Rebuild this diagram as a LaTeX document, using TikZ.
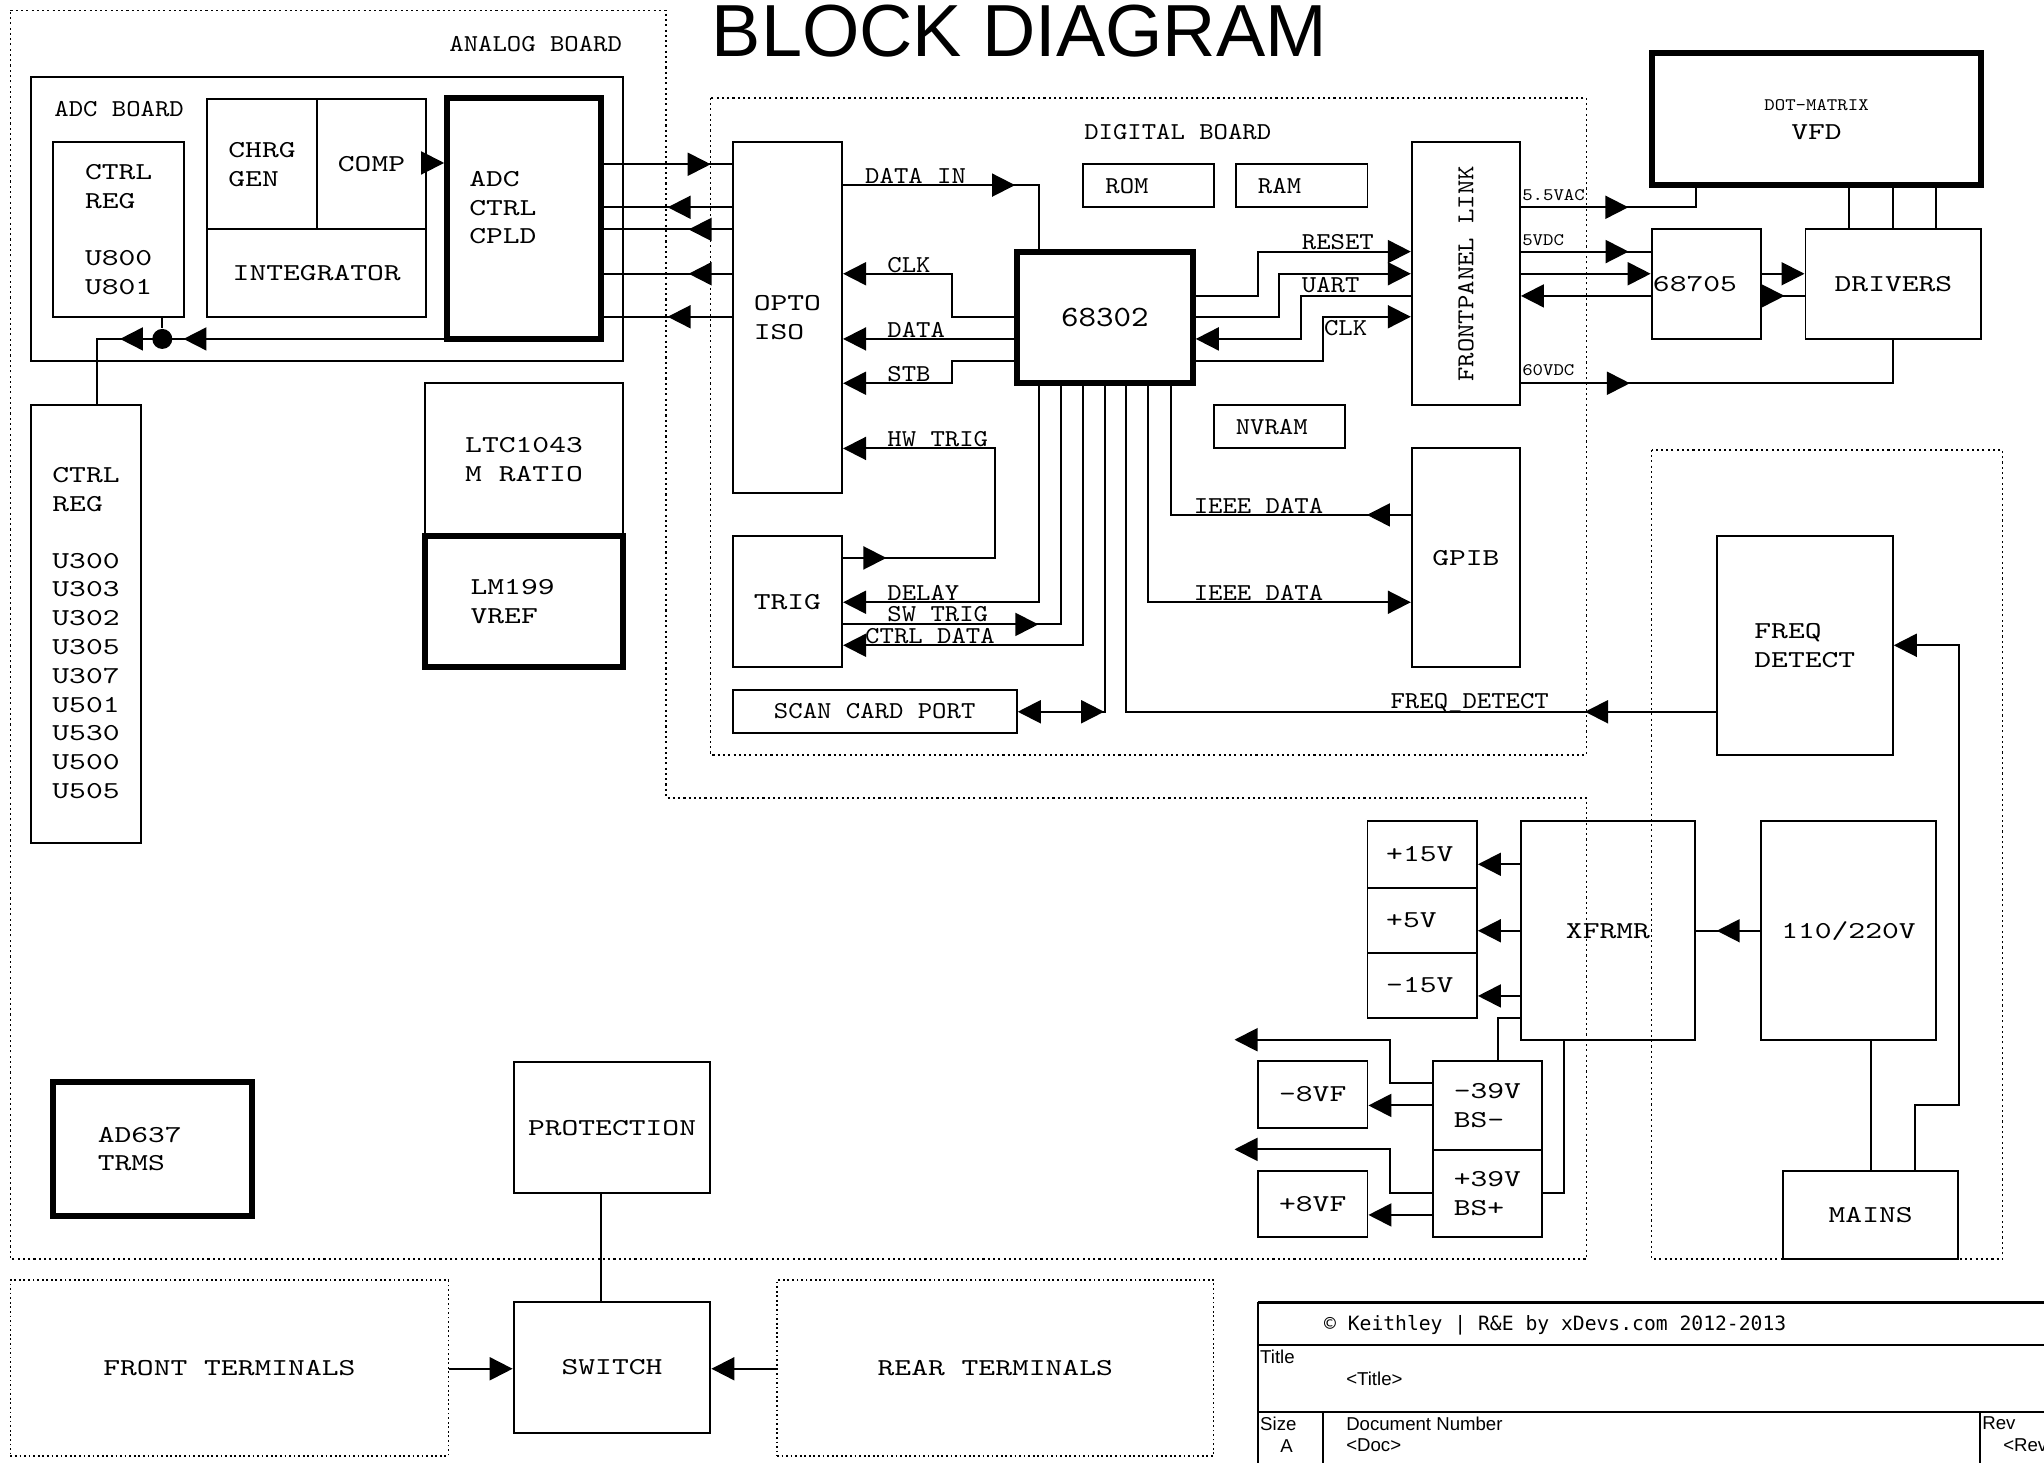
\documentclass[tikz,border=0pt]{standalone}
\usepackage{fontspec}
\usetikzlibrary{arrows.meta,decorations.markings}
\newfontfamily\blkfont[FakeStretch=1.32]{lmmono10-regular.otf}
\newfontfamily\sigfont[FakeStretch=1.13]{lmmono10-regular.otf}
\newfontfamily\hdfont{Liberation Sans}
\newfontfamily\cpyfont{DejaVu Sans Mono}
\newcommand{\px}{0.13036mm}
\newcommand{\blktxt}{\blkfont\fontsize{6.9}{8.2}\selectfont}
\newcommand{\sigtxt}{\sigfont\fontsize{6.9}{8.2}\selectfont}
\newcommand{\tagtxt}{\sigfont\fontsize{5}{6}\selectfont}
\newcommand{\mputxt}{\sigfont\fontsize{8.4}{10}\selectfont}
\newcommand{\tbtxt}{\hdfont\fontsize{5.3}{6.5}\selectfont}

\begin{document}
\begin{tikzpicture}[
            x=\px, y=-\px,
            line width=0.55pt,
            >={Triangle[length=2.3mm,width=2.3mm]},
            every node/.style={inner sep=0pt},
            box/.style={draw, font=\blktxt},
            heavy/.style={box, line width=1.7pt},
            term/.style={draw, line width=0.4pt, dash pattern=on 0.5pt off 0.8pt, font=\blktxt},
            board/.style={line width=0.45pt, dash pattern=on 0.6pt off 0.9pt},
            sig/.style={font=\sigtxt, anchor=west},
            tag/.style={font=\tagtxt, anchor=west},
            tb/.style={font=\tbtxt, anchor=west},
            wh/.style 2 args={minimum width=#1*\px, minimum height=#2*\px},
            dot/.style={circle, fill, minimum size=2mm},
            mid fwd/.style={postaction={decorate, decoration={markings, mark=at position #1 with {\arrow{>}}}}},
            mid bwd/.style={postaction={decorate, decoration={markings, mark=at position #1 with {\arrowreversed{>}}}}},
        ]
            \useasboundingbox (0,0) rectangle (1568,1122);

            \node[font=\hdfont\fontsize{21}{25}\selectfont] (title) at (782,24) {BLOCK DIAGRAM};

            % boards
            \draw[board] (8,8) -- (511,8) -- (511,612) -- (1217,612) -- (1217,966) -- (8,966) -- cycle;
            \draw[board] (545,75) rectangle (1217,579);
            \draw[board] (1267,345) rectangle (1536,966);
            \node[sig] (anlbl) at (344,34) {ANALOG BOARD};
            \node[sig] (diglbl) at (831,101) {DIGITAL BOARD};

            % analog board
            \node[box, wh={454}{218}] (adcbrd) at (251,168) {};
            \node[sig] (adclbl) at (41,84) {ADC BOARD};
            \node[box, wh={100}{134}, align=left] (u800) at (91,176) {CTRL\\REG\\[8.2pt]U800\\U801};
            \node[box, wh={84}{100}, align=left] (chrg) at (201,126) {CHRG\\GEN};
            \node[box, wh={84}{100}] (comp) at (285,126) {COMP};
            \node[box, wh={168}{67}] (integ) at (243,209.5) {INTEGRATOR};
            \node[heavy, wh={118}{185}, text width=10.95mm, align=left] (cpld) at (402,167.5) {ADC\\CTRL\\CPLD\\[-2pt]\mbox{}};
            \node[box, wh={84}{336}, align=left] (ctrlreg) at (66,479) {\mbox{}\\[1pt]CTRL\\REG\\[8pt]U300\\U303\\U302\\U305\\U307\\U501\\U530\\U500\\U505};
            \node[box, wh={152}{117}, align=left] (ltc) at (402,352.5) {LTC1043\\M RATIO};
            \node[heavy, wh={152}{101}, text width=10.69mm, align=left] (lm199) at (402,461.5) {LM199\\VREF};
            \node[heavy, wh={152}{103}, text width=10.95mm, align=left] (ad637) at (117,881.5) {AD637\\TRMS};
            \node[box, wh={151}{100}] (prot) at (469.5,865) {PROTECTION};
            \node[box, wh={151}{100}] (switch) at (469.5,1049) {SWITCH};
            \node[term, wh={336}{135}] (front) at (176,1049.5) {FRONT TERMINALS};
            \node[term, wh={335}{135}] (rear) at (763.5,1049.5) {REAR TERMINALS};
            \node[dot] (jn) at (124.5,260) {};

            % digital board
            \node[box, wh={84}{269}, align=left] (opto) at (604,243.5) {OPTO\\ISO};
            \node[box, wh={84}{101}] (trig) at (604,461.5) {TRIG};
            \node[box, wh={218}{33}, font=\sigtxt] (scan) at (671,545.5) {SCAN CARD PORT};
            \node[box, wh={100}{33}, font=\sigtxt, text width=8.6mm, align=left] (rom) at (881,142.5) {ROM};
            \node[box, wh={101}{33}, font=\sigtxt, text width=8.73mm, align=left] (ram) at (998.5,142.5) {RAM};
            \node[box, wh={101}{33}, font=\sigtxt, text width=8.73mm, align=left] (nvram) at (981.5,327.5) {NVRAM};
            \node[heavy, wh={135}{101}, font=\mputxt] (mpu) at (847.5,243.5) {68302};
            \node[box, wh={83}{202}, font=\sigtxt] (fplink) at (1124.5,210) {\rotatebox{90}{FRONTPANEL LINK}};
            \node[box, wh={83}{168}] (gpib) at (1124.5,428) {GPIB};

            % front panel
            \node[heavy, wh={253}{101}, align=center] (vfd) at (1393.5,91.5) {{\tagtxt DOT-MATRIX}\\VFD};
            \node[box, wh={84}{84}, text width=10.69mm, align=left] (mcu) at (1309,218) {68705};
            \node[box, wh={135}{84}] (drivers) at (1452.5,218) {DRIVERS};

            % power
            \node[box, wh={135}{168}, align=left] (freqdet) at (1384.5,495) {FREQ\\DETECT};
            \node[box, wh={134}{168}] (acin) at (1418,714) {110/220V};
            \node[box, wh={133}{168}] (xfrmr) at (1233.5,714) {XFRMR};
            \node[box, wh={134}{68}] (mains) at (1435,932) {MAINS};
            \node[box, wh={84}{51}, text width=7.2mm, align=left] (p15) at (1091,655.5) {+15V};
            \node[box, wh={84}{50}, text width=7.2mm, align=left] (p5) at (1091,706) {+5V};
            \node[box, wh={84}{50}, text width=7.2mm, align=left] (m15) at (1091,756) {-15V};
            \node[box, wh={84}{68}, align=left] (bsn) at (1141,848) {-39V\\BS-};
            \node[box, wh={84}{67}, align=left] (bsp) at (1141,915.5) {+39V\\BS+};
            \node[box, wh={84}{51}] (m8) at (1007,839.5) {-8VF};
            \node[box, wh={84}{51}] (p8) at (1007,923.5) {+8VF};
            \coordinate (vfm) at (947,797.6);
            \coordinate (vfp) at (947,881.7);

            % analog links
            \draw[->] (comp.east|-0,125) -- (cpld.west|-0,125);
            \draw[mid fwd=0.632, mid fwd=0.786] (cpld.west|-0,260) -- (74.6,260) -- (ctrlreg.north-|74.6,0);
            \draw (u800.south-|jn) -- (jn);
            \draw[mid fwd=0.836] (cpld.east|-0,126) -- (opto.west|-0,126);
            \draw[mid bwd=0.499] (cpld.east|-0,159) -- (opto.west|-0,159);
            \draw[mid bwd=0.663] (cpld.east|-0,176) -- (opto.west|-0,176);
            \draw[mid bwd=0.663] (cpld.east|-0,210) -- (opto.west|-0,210);
            \draw[mid bwd=0.499] (cpld.east|-0,243) -- (opto.west|-0,243);
            \draw (prot.south-|461,0) -- (switch.north-|461,0);
            \draw[->] (front.east|-0,1050) -- (switch.west|-0,1050);
            \draw[->] (rear.west|-0,1050) -- (switch.east|-0,1050);

            % digital links
            \draw[mid fwd=0.663] (opto.east|-0,142) -- (797,142) -- (mpu.north-|797,0);
            \draw[->] (mpu.west|-0,243) -- (730,243) -- (730,210) -- (opto.east|-0,210);
            \draw[->] (mpu.west|-0,260) -- (opto.east|-0,260);
            \draw[->] (mpu.west|-0,277) -- (730,277) -- (730,294) -- (opto.east|-0,294);
            \draw[->, mid fwd=0.105] (trig.east|-0,428) -- (763,428) -- (763,344) -- (opto.east|-0,344);
            \draw[->] (mpu.south-|797,0) -- (797,462) -- (trig.east|-0,462);
            \draw[mid fwd=0.428] (trig.east|-0,479) -- (814,479) -- (mpu.south-|814,0);
            \draw[->] (mpu.south-|831,0) -- (831,495) -- (trig.east|-0,495);
            \draw[<-, mid fwd=0.209] (scan.east|-0,546) -- (848,546) -- (mpu.south-|848,0);
            \draw[mid bwd=0.857] (mpu.south-|864,0) -- (864,546) -- (freqdet.west|-0,546);
            \draw[->] (mpu.south-|881,0) -- (881,462) -- (gpib.west|-0,462);
            \draw[mid bwd=0.881] (mpu.south-|898,0) -- (898,395) -- (gpib.west|-0,395);
            \draw[->] (mpu.east|-0,227) -- (965,227) -- (965,193) -- (fplink.west|-0,193);
            \draw[->] (mpu.east|-0,243) -- (981,243) -- (981,210) -- (fplink.west|-0,210);
            \draw[->] (fplink.west|-0,227) -- (998,227) -- (998,260) -- (mpu.east|-0,260);
            \draw[->] (mpu.east|-0,277) -- (1015,277) -- (1015,243) -- (fplink.west|-0,243);
            \node[sig] (l1) at (663,135) {DATA IN};
            \node[sig] (l2) at (680,203) {CLK};
            \node[sig] (l3) at (680,253) {DATA};
            \node[sig] (l4) at (680,287) {STB};
            \node[sig] (l5) at (680,337) {HW TRIG};
            \node[sig] (l6) at (680,455) {DELAY};
            \node[sig] (l7) at (680,471) {SW TRIG};
            \node[sig] (l8) at (663,488) {CTRL DATA};
            \node[sig] (l9) at (915,388) {IEEE DATA};
            \node[sig] (l10) at (915,455) {IEEE DATA};
            \node[sig] (l11) at (1066,539) {FREQ\_DETECT};
            \node[sig] (l12) at (998,186) {RESET};
            \node[sig] (l13) at (998,219) {UART};
            \node[sig] (l14) at (1015,252) {CLK};

            % front panel links
            \draw[mid fwd=0.553] (fplink.east|-0,159) -- (1301,159) -- (vfd.south-|1301,0);
            \draw[mid fwd=0.83] (fplink.east|-0,193) -- (mcu.west|-0,193);
            \draw[->] (fplink.east|-0,210) -- (mcu.west|-0,210);
            \draw[->] (mcu.west|-0,227) -- (fplink.east|-0,227);
            \draw[mid fwd=0.2625] (fplink.east|-0,294) -- (1452,294) -- (drivers.south-|1452,0);
            \draw[->] (mcu.east|-0,210) -- (drivers.west|-0,210);
            \draw[mid fwd=0.53] (mcu.east|-0,227) -- (drivers.west|-0,227);
            \foreach \x in {1418.5,1452,1485}
                \draw (vfd.south-|\x,0) -- (drivers.north-|\x,0);
            \node[tag] (t1) at (1167,150) {5.5VAC};
            \node[tag] (t2) at (1167,184) {5VDC};
            \node[tag] (t3) at (1167,284) {60VDC};

            % power links
            \draw[mid fwd=0.673] (acin.west|-0,714) -- (xfrmr.east|-0,714);
            \draw[->] (xfrmr.west|-0,663) -- (p15.east|-0,663);
            \draw[->] (xfrmr.west|-0,714) -- (p5.east|-0,714);
            \draw[->] (xfrmr.west|-0,764) -- (m15.east|-0,764);
            \draw (xfrmr.west|-0,781) -- (1149,781) -- (bsn.north-|1149,0);
            \draw (xfrmr.south-|1200,0) -- (1200,915) -- (bsp.east|-0,915);
            \draw[->] (bsn.west|-0,848) -- (m8.east|-0,848);
            \draw[->] (bsn.west|-0,831) -- (1066,831) -- (1066,797.6) -- (vfm);
            \draw[->] (bsp.west|-0,932) -- (p8.east|-0,932);
            \draw[->] (bsp.west|-0,915) -- (1066,915) -- (1066,881.7) -- (vfp);
            \draw (acin.south-|1435,0) -- (mains.north-|1435,0);
            \draw[->] (mains.north-|1469,0) -- (1469,848) -- (1503,848) -- (1503,495) -- (freqdet.east|-0,495);

            % title block
            \draw[line width=0.9pt] (965,999) -- (1580,999);
            \draw[line width=0.5pt] (965,999) -- (965,1130);
            \draw[line width=0.5pt] (965,1032) -- (1580,1032);
            \draw[line width=0.5pt] (965,1083) -- (1580,1083);
            \draw[line width=0.5pt] (1015,1083) -- (1015,1130);
            \draw[line width=0.5pt] (1519,1083) -- (1519,1130);
            \node[font=\cpyfont\fontsize{5.6}{7}\selectfont, anchor=west] (cpy) at (1015,1016.5) {© Keithley | R\&E by xDevs.com 2012-2013};
            \node[tb] (tb1) at (966,1041) {Title};
            \node[tb] (tb2) at (1032,1058) {<Title>};
            \node[tb] (tb3) at (966,1092) {Size};
            \node[tb, anchor=center] (tb4) at (987,1109) {A};
            \node[tb] (tb5) at (1032,1092) {Document Number};
            \node[tb] (tb6) at (1032,1109) {<Doc>};
            \node[tb] (tb7) at (1520,1092) {Rev};
            \node[tb] (tb8) at (1536,1109) {<Rev};
        \end{tikzpicture}
\end{document}
